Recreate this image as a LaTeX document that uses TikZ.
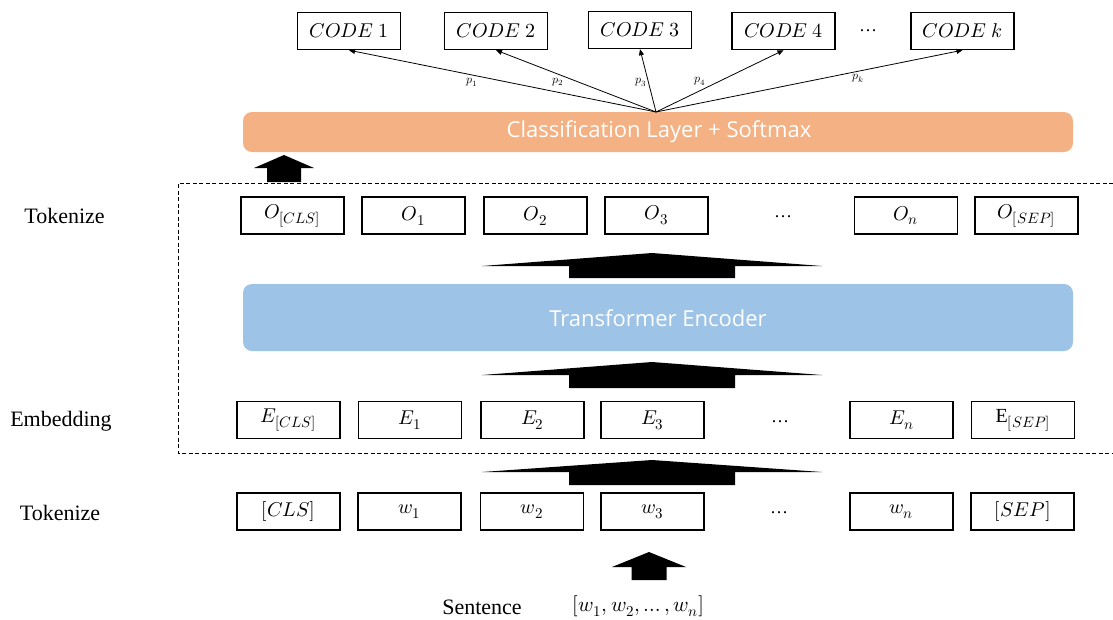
\documentclass[tikz,border=0pt]{standalone}
\usepackage{fontspec}
\usepackage{unicode-math}
\setmainfont{Liberation Serif}
\setmathfont{Latin Modern Math}
\newfontfamily\uifont{Open Sans}
\DeclareMathSizes{20}{20}{15}{11}
\DeclareMathSizes{21}{21}{15}{11}
\usetikzlibrary{arrows.meta}
\definecolor{clsorange}{HTML}{F4B183}
\definecolor{encblue}{HTML}{9DC3E6}

% solid block arrow: centre x, tip y, wing y, bottom y, wing half-width, shaft half-width
\newcommand\fatarrow[6]{%
  \fill (#1,#2) -- ({#1+#5},#3) -- ({#1+#6},#3) -- ({#1+#6},#4)
        -- ({#1-#6},#4) -- ({#1-#6},#3) -- ({#1-#5},#3) -- cycle;}

\begin{document}
\begin{tikzpicture}[x=1pt,y=-1pt,
  tok/.style={draw, line width=1.4pt, minimum width=103pt, minimum height=37pt,
              inner sep=0pt, font=\fontsize{20}{24}\selectfont},
  gap/.style={font=\fontsize{18}{22}\selectfont},
  rowlabel/.style={font=\fontsize{22}{26}\selectfont},
  layer/.style={rounded corners=9pt, draw=none},
  layertext/.style={text=white, font=\uifont\fontsize{22}{26}\selectfont},
  prob/.style={-{Triangle[length=6pt,width=5pt]}, line width=0.8pt},
  plab/.style={font=\fontsize{12}{14}\selectfont, inner sep=1pt}]
\useasboundingbox (0,0) rectangle (1113,619);

% output codes
\node[tok] (c1) at (349,31) {$CODE\ 1$};
\node[tok] (c2) at (496,31) {$CODE\ 2$};
\node[tok] (c3) at (640,30) {$CODE\ 3$};
\node[tok] (c4) at (783.5,31) {$CODE\ 4$};
\node[gap] (cdots) at (868,31) {\dots};
\node[tok] (ck) at (962.5,31) {$CODE\ k$};

% classification layer
\fill[clsorange, layer] (243,112) rectangle (1073,152);
\node[layertext] (cls) at (659,132) {Classification Layer + Softmax};
\coordinate (src) at (656,112);

\draw[prob] (src) -- node[plab, pos=0.6, below=2pt] {$p_1$} (c1.south);
\draw[prob] (src) -- node[plab, pos=0.61, below=2pt] {$p_2$} (c2.south);
\draw[prob] (src) -- node[plab, pos=0.47, left=1pt] {$p_3$} (c3.south);
\draw[prob] (src) -- node[plab, pos=0.4, above left=0pt] {$p_4$} (c4.south);
\draw[prob] (src) -- node[plab, pos=0.66, below=2pt] {$p_k$} (ck.south);

\fatarrow{284}{155}{168}{182}{30}{17}

% encoder block
\draw[line width=0.8pt, dash pattern=on 4pt off 2.5pt]
  (1113,183) -- (178,183) -- (178,453) -- (1113,453);

\node[rowlabel] (lt) at (64.5,216) {Tokenize};
\node[tok] (o0) at (292.5,215.5) {$O_{[CLS]}$};
\node[tok] (o1) at (413.5,215.5) {$O_1$};
\node[tok] (o2) at (535.5,215.5) {$O_2$};
\node[tok] (o3) at (656.5,215.5) {$O_3$};
\node[gap] (odots) at (783,217) {\dots};
\node[tok] (on) at (906,215.5) {$O_n$};
\node[tok] (os) at (1026.5,215.5) {$O_{[SEP]}$};

\fatarrow{652}{253}{266}{278}{170}{83}

\fill[encblue, layer] (243,284) rectangle (1073,351);
\node[layertext] (enc) at (658,318) {Transformer Encoder};

\fatarrow{652}{362}{375}{388}{170}{83}

\node[rowlabel] (le) at (61,421) {Embedding};
\node[tok] (e0) at (288.5,420) {$E_{[CLS]}$};
\node[tok] (e1) at (410,420) {$E_1$};
\node[tok] (e2) at (532.5,420) {$E_2$};
\node[tok] (e3) at (652.5,420) {$E_3$};
\node[gap] (edots) at (780,422) {\dots};
\node[tok] (en) at (901.5,420) {$E_n$};
\node[tok] (es) at (1023,420) {$\mathrm{E}_{[SEP]}$};

\fatarrow{652}{460}{472}{485}{170}{83}

% input tokens
\node[rowlabel] (lw) at (60,513) {Tokenize};
\node[tok] (w0) at (288.5,511.5) {$[CLS]$};
\node[tok] (w1) at (409.5,511.5) {$w_1$};
\node[tok] (w2) at (532,511.5) {$w_2$};
\node[tok] (w3) at (652.5,511.5) {$w_3$};
\node[gap] (wdots) at (779,513) {\dots};
\node[tok] (wn) at (901.5,511.5) {$w_n$};
\node[tok] (ws) at (1022.5,511.5) {$[SEP]$};

\fatarrow{649}{552}{567}{580}{37}{17.5}

\node[rowlabel] (ls) at (482,607) {Sentence};
\node[font=\fontsize{21}{25}\selectfont] (sent) at (638.5,606) {$[w_1, w_2, \dots, w_n]$};
\end{tikzpicture}
\end{document}
